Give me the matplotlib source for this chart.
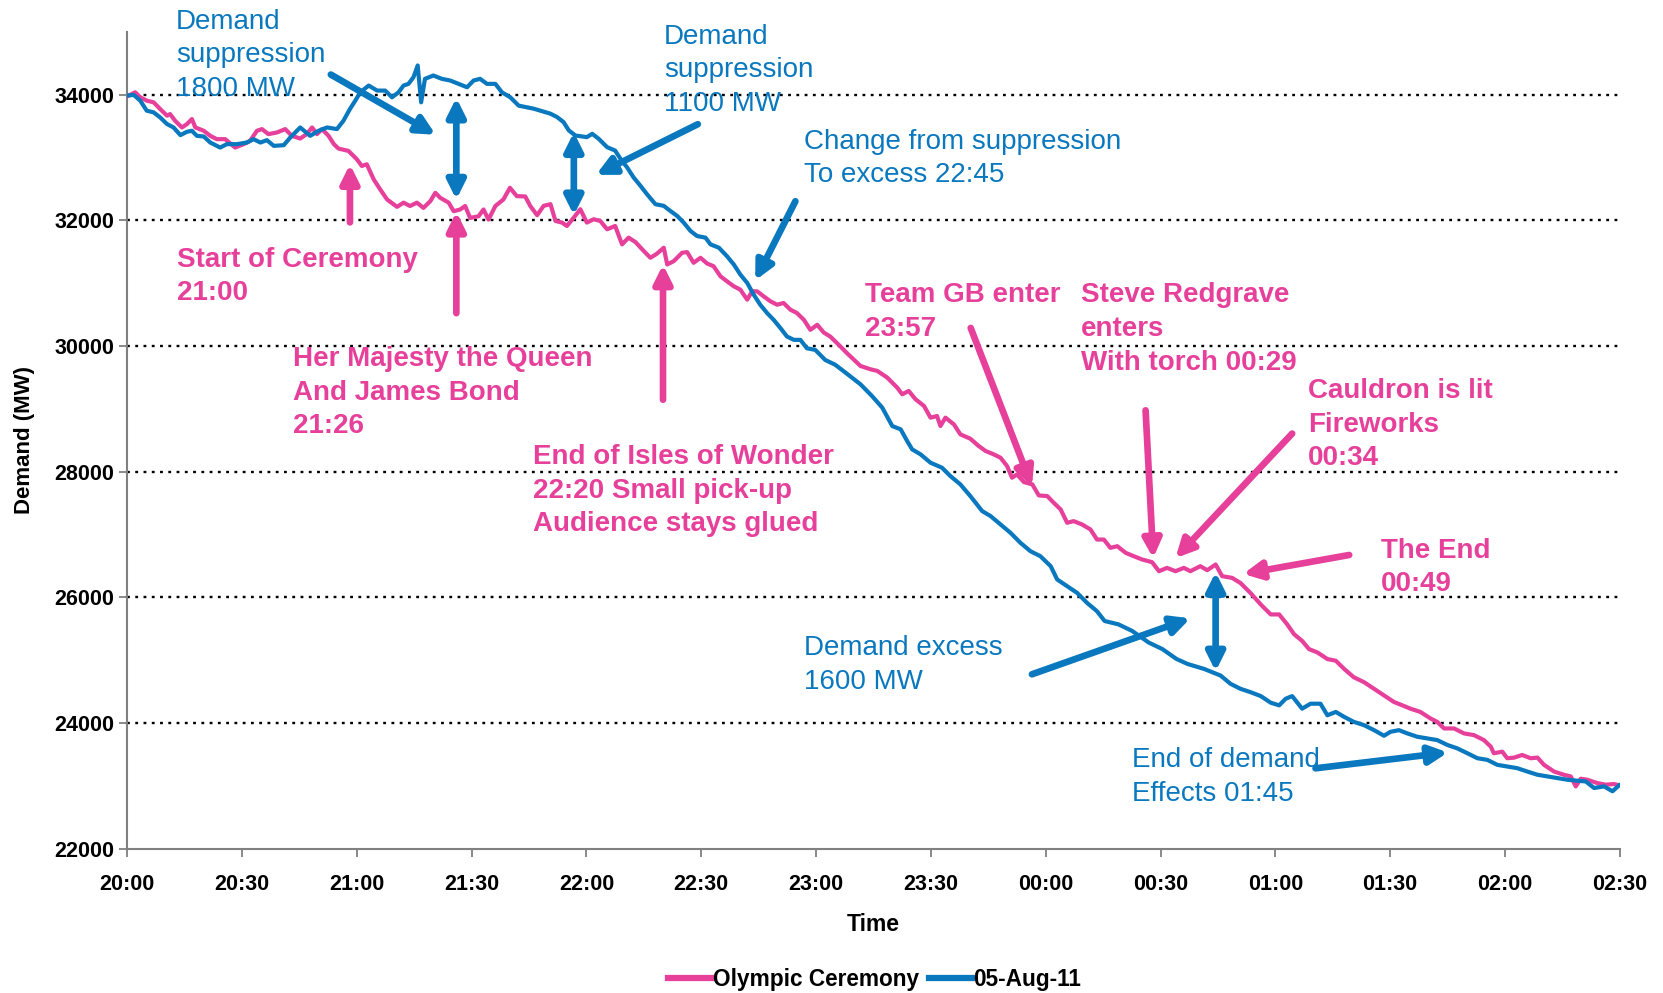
import matplotlib
matplotlib.use("Agg")
import matplotlib.pyplot as plt

# ---- data (minutes after 20:00, MW) ----
olympic_t = [0, 2.1, 3.4, 5.1, 6.9, 8.6, 10.4, 11.2, 12.5, 14.3, 15.6, 16.9, 17.8, 20, 21.7,
             23.4, 25.6, 28.2, 30.4, 32.1, 33.9, 35.2, 36.9, 39.1, 41.3, 43, 45.2, 46.9, 48.3,
             49.6, 50.9, 52.6, 54, 55.2, 57.8, 60, 61.3, 62.6, 64.4, 66.1, 67.9, 70.5, 72.2,
             73.9, 75.7, 77.4, 79.2, 80.5, 81.8, 84, 85.3, 87, 88.3, 89.6, 91.8, 93.1, 94.4,
             96.2, 98.3, 100, 101.8, 104, 105.3, 107.1, 108.8, 110.6, 111.9, 113.6, 114.9,
             116.7, 118.4, 120.1, 121.9, 123.6, 125.4, 127.5, 129.3, 131, 132.8, 135, 136.7,
             138.4, 140.2, 141.1, 142.8, 145, 146.3, 148, 149.8, 151.5, 153.2, 155, 156.7,
             158.5, 160.2, 162, 163.3, 164.6, 166.3, 168.1, 169.8, 171.5, 173.3, 175, 176.8,
             178.5, 180.3, 182, 183.7, 185.5, 188.1, 191.6, 194.2, 196, 198.6, 201.2, 202.5,
             204.2, 206, 208.2, 209.9, 211.6, 212.5, 213.8, 216, 217.7, 220.3, 222.5, 224.3,
             226.4, 228.2, 229.9, 231.2, 232.5, 234.3, 236.5, 238.2, 240.4, 242.1, 243.9,
             245.6, 247.3, 249.5, 251.7, 253.4, 255.2, 256.9, 258.7, 260.9, 263, 265.2, 267.8,
             269.6, 271.7, 273.9, 276.1, 277.8, 280.4, 282.2, 284.4, 286.1, 288.7, 290.9,
             293.5, 296.2, 298.8, 301, 303.1, 304.9, 307, 308.8, 311, 313.6, 315.8, 318,
             320.5, 323.2, 325.8, 328.4, 331, 333.2, 335.3, 337.9, 340.6, 342.3, 344.1, 346.7,
             349.3, 351.9, 354.5, 356.3, 357.1, 359.3, 360.6, 362.4, 364.5, 366.7, 368.5,
             370.2, 372.8, 375.4, 377.2, 378.5, 379.8, 381.5, 384.1, 386.3, 388.5, 390]
olympic_mw = [33973, 34037, 33957, 33904, 33877, 33771, 33664, 33690, 33584, 33477, 33530,
              33611, 33477, 33424, 33344, 33291, 33291, 33157, 33211, 33264, 33424, 33451,
              33371, 33397, 33451, 33344, 33301, 33371, 33477, 33371, 33451, 33344, 33211,
              33141, 33104, 32971, 32864, 32891, 32651, 32491, 32331, 32213, 32280, 32227,
              32280, 32197, 32304, 32437, 32357, 32280, 32144, 32171, 32227, 32037, 32064,
              32171, 32011, 32227, 32331, 32517, 32384, 32379, 32229, 32080, 32229, 32256,
              31989, 31963, 31909, 32043, 32176, 31963, 32016, 31989, 31856, 31909, 31616,
              31723, 31653, 31509, 31403, 31467, 31563, 31296, 31349, 31483, 31493, 31323,
              31403, 31312, 31269, 31109, 31029, 30949, 30896, 30736, 30869, 30869, 30789,
              30709, 30656, 30683, 30576, 30523, 30416, 30256, 30336, 30213, 30149, 30043,
              29883, 29681, 29628, 29602, 29495, 29336, 29230, 29283, 29150, 29044, 28858,
              28884, 28725, 28858, 28752, 28592, 28523, 28406, 28327, 28274, 28220, 28088,
              27902, 27955, 27833, 27796, 27620, 27610, 27503, 27397, 27185, 27211, 27158,
              27078, 26918, 26918, 26786, 26812, 26706, 26653, 26600, 26558, 26414, 26467,
              26414, 26467, 26414, 26494, 26430, 26521, 26335, 26308, 26226, 26068, 25884,
              25726, 25726, 25568, 25411, 25305, 25174, 25121, 25016, 24989, 24858, 24726,
              24647, 24542, 24437, 24332, 24279, 24226, 24174, 24068, 24016, 23911, 23911,
              23832, 23805, 23726, 23621, 23516, 23542, 23437, 23447, 23489, 23437, 23447,
              23332, 23226, 23174, 23147, 22989, 23111, 23095, 23042, 23016, 23026, 23005]

aug_t = [0, 1.7, 3.4, 5.1, 6.9, 8.6, 10.4, 12.1, 13.9, 15.6, 16.9, 18.2, 20, 21.7, 24.3, 26,
         28.6, 31.3, 33, 34.8, 36.5, 38.3, 40.9, 42.6, 45.2, 47.8, 50, 52.2, 54.8, 56.5, 58.2,
         59.6, 60.9, 63.1, 65.3, 67.4, 69.2, 70.9, 72.2, 73.5, 74.8, 75.9, 76.8, 77.8, 80,
         82.2, 84.4, 86.6, 88.8, 90.5, 92.2, 94, 96.2, 97.9, 100.1, 102.3, 106.2, 110.6,
         112.3, 114, 115.4, 117.1, 120.1, 121.5, 123.2, 125.4, 127.5, 128.9, 130.6, 132.3,
         134.1, 135.8, 138, 140.2, 141.9, 143.7, 145.4, 147.2, 148.9, 151.1, 152.4, 154.6,
         156.7, 158.5, 160.2, 162, 163.7, 165.4, 167.2, 168.9, 170.7, 172.4, 174.2, 175.9,
         177.6, 179.8, 182.4, 185, 188, 191.6, 194.6, 197.3, 199.9, 202.1, 203.8, 205.1,
         207.3, 209.9, 212.9, 215.1, 217.7, 220.3, 223.4, 225.6, 228.2, 230.8, 233.4, 236,
         238.6, 241.3, 243, 245.6, 248.2, 250.8, 253.4, 255.4, 259, 262.6, 266.9, 270.5,
         274.2, 277.1, 281.4, 285.7, 288.3, 290.9, 293.5, 296.2, 298.8, 301, 302.7, 304.4,
         307, 309.2, 311.8, 313.6, 315.8, 318, 320.5, 323.2, 325.8, 328.4, 330.1, 332.3,
         334.5, 337.1, 339.7, 342.3, 345, 347.5, 350.2, 352.8, 355.4, 358, 360.6, 363.2,
         365.8, 368.5, 371.1, 373.7, 376.3, 378.9, 381.1, 383.3, 385.9, 388.1, 389.8]
aug_mw = [33984, 33995, 33904, 33744, 33717, 33637, 33531, 33477, 33355, 33408, 33424, 33344,
          33333, 33237, 33157, 33211, 33211, 33237, 33291, 33237, 33275, 33184, 33195, 33317,
          33477, 33344, 33424, 33477, 33451, 33584, 33771, 33904, 34037, 34144, 34064, 34064,
          33957, 34037, 34144, 34171, 34277, 34464, 33877, 34251, 34304, 34251, 34224, 34171,
          34117, 34224, 34251, 34171, 34171, 34037, 33957, 33824, 33776, 33696, 33643, 33563,
          33429, 33349, 33323, 33376, 33296, 33163, 33109, 32976, 32843, 32683, 32549, 32416,
          32256, 32229, 32149, 32069, 31963, 31829, 31749, 31723, 31616, 31563, 31429, 31296,
          31136, 31003, 30816, 30656, 30523, 30416, 30283, 30149, 30096, 30096, 29963, 29936,
          29776, 29700, 29560, 29389, 29203, 29017, 28725, 28672, 28486, 28353, 28274, 28141,
          28061, 27928, 27796, 27610, 27371, 27291, 27158, 27025, 26866, 26733, 26653, 26494,
          26282, 26175, 26069, 25910, 25777, 25621, 25568, 25463, 25279, 25174, 25016, 24937,
          24858, 24753, 24621, 24542, 24489, 24426, 24321, 24279, 24384, 24426, 24226, 24305,
          24305, 24121, 24174, 24095, 24016, 23963, 23884, 23795, 23858, 23884, 23832, 23779,
          23753, 23726, 23647, 23595, 23516, 23437, 23411, 23332, 23305, 23279, 23226, 23174,
          23147, 23121, 23095, 23079, 23068, 22963, 22989, 22911, 23005]

tick_minutes = [0, 30, 60, 90, 120, 150, 180, 210, 240, 270, 300, 330, 360, 390]
tick_labels = ["20:00", "20:30", "21:00", "21:30", "22:00", "22:30", "23:00", "23:30",
               "00:00", "00:30", "01:00", "01:30", "02:00", "02:30"]
y_ticks = [22000, 24000, 26000, 28000, 30000, 32000, 34000]
series_names = ["Olympic Ceremony", "05-Aug-11"]

PINK = "#E6409B"
BLUE = "#0A78BE"
FONT = "Liberation Sans"

plt.rcParams["font.family"] = [FONT, "DejaVu Sans"]

fig = plt.figure(figsize=(16.63, 9.93), dpi=100)
ax = fig.add_axes([0.0765, 0.1455, 0.8975, 0.8225])

for yv in y_ticks[1:]:
    ax.axhline(yv, color="black", lw=1.7, linestyle=(0, (1.2, 2.3)), zorder=1)

ax.plot(olympic_t, olympic_mw, color=PINK, lw=3.0, label=series_names[0], zorder=3,
        solid_joinstyle="round")
ax.plot(aug_t, aug_mw, color=BLUE, lw=3.0, label=series_names[1], zorder=4,
        solid_joinstyle="round")

ax.set_xlim(0, 390)
ax.set_ylim(22000, 35000)
ax.set_xticks(tick_minutes)
ax.set_xticklabels(tick_labels, fontsize=15.5, fontweight="bold")
ax.set_yticks(y_ticks)
ax.set_yticklabels([str(v) for v in y_ticks], fontsize=15.5, fontweight="bold")
for s in ["top", "right"]:
    ax.spines[s].set_visible(False)
for s in ["left", "bottom"]:
    ax.spines[s].set_color("#808080")
    ax.spines[s].set_linewidth(1.5)
ax.tick_params(axis="both", colors="#808080", length=6, width=1.3, labelcolor="black")
ax.tick_params(axis="x", pad=12)
ax.set_xlabel("Time", fontsize=16.5, fontweight="bold", labelpad=13)
ax.set_ylabel("Demand (MW)", fontsize=16, fontweight="bold", labelpad=14)

leg = fig.legend(loc="center", bbox_to_anchor=(0.526, 0.014), ncol=2, frameon=False,
                 prop={"size": 16.3, "weight": "bold"}, handlelength=1.9, handletextpad=0.05,
                 columnspacing=0.45)
for h in leg.get_lines():
    h.set_linewidth(4.5)

TXT = dict(fontsize=20, va="top", ha="left", linespacing=1.38, clip_on=False)

def note(x, y, s, color, bold):
    ax.text(x, y, s, color=color, fontweight="bold" if bold else "normal", **TXT)

def arrow(x0, y0, x1, y1, color, double=False):
    ax.annotate("", xy=(x1, y1), xytext=(x0, y0),
                arrowprops=dict(arrowstyle="<|-|>" if double else "-|>", color=color,
                                lw=4.8, mutation_scale=27, shrinkA=0, shrinkB=0),
                zorder=6, annotation_clip=False)

# blue notes
note(12.8, 35370, "Demand\nsuppression\n1800 MW", BLUE, False)
note(140.3, 35130, "Demand\nsuppression\n1100 MW", BLUE, False)
note(176.9, 33460, "Change from suppression\nTo excess 22:45", BLUE, False)
note(176.9, 25400, "Demand excess\n1600 MW", BLUE, False)
note(262.5, 23610, "End of demand\nEffects 01:45", BLUE, False)
# pink notes
note(13.0, 31580, "Start of Ceremony\n21:00", PINK, True)
note(43.2, 29995, "Her Majesty the Queen\nAnd James Bond\n21:26", PINK, True)
note(105.9, 28440, "End of Isles of Wonder\n22:20 Small pick-up\nAudience stays glued", PINK, True)
note(192.9, 31010, "Team GB enter\n23:57", PINK, True)
note(249.2, 31010, "Steve Redgrave\nenters\nWith torch 00:29", PINK, True)
note(308.5, 29490, "Cauldron is lit\nFireworks\n00:34", PINK, True)
note(327.7, 26950, "The End\n00:49", PINK, True)

# blue arrows
arrow(53.2, 34319, 80.6, 33361, BLUE)
arrow(86.0, 33950, 86.0, 32330, BLUE, double=True)
arrow(116.7, 33400, 116.7, 32080, BLUE, double=True)
arrow(149.1, 33529, 122.5, 32723, BLUE)
arrow(174.6, 32303, 164.1, 31042, BLUE)
arrow(284.4, 26400, 284.4, 24820, BLUE, double=True)
arrow(236.4, 24773, 277.8, 25664, BLUE)
arrow(310.5, 23277, 345.1, 23529, BLUE)
# pink arrows
arrow(58.2, 31966, 58.2, 32891, PINK)
arrow(86.0, 30521, 86.0, 32134, PINK)
arrow(140.0, 29143, 140.0, 31294, PINK)
arrow(220.4, 30286, 236.4, 27765, PINK)
arrow(266.1, 28975, 268.1, 26622, PINK)
arrow(304.4, 28605, 273.9, 26622, PINK)
arrow(319.3, 26672, 291.6, 26370, PINK)

fig.savefig("out.png", dpi=100)
